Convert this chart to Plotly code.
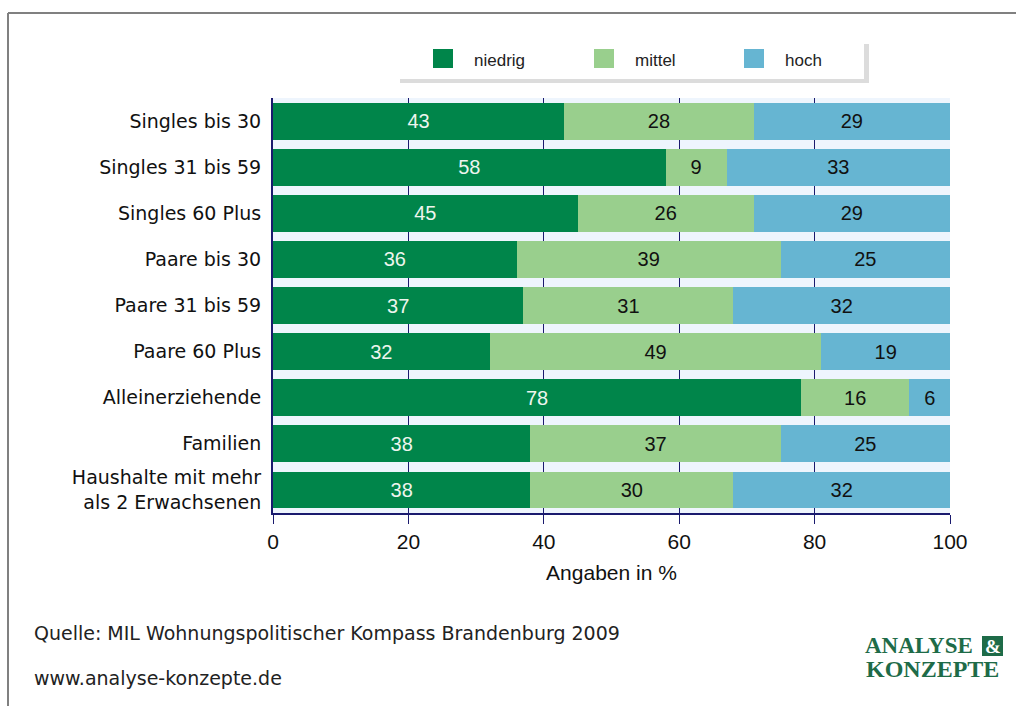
import plotly.graph_objects as go

categories = ["Singles bis 30", "Singles 31 bis 59", "Singles 60 Plus", "Paare bis 30",
              "Paare 31 bis 59", "Paare 60 Plus", "Alleinerziehende", "Familien",
              "Haushalte mit mehr<br>als 2 Erwachsenen"]
niedrig = [43, 58, 45, 36, 37, 32, 78, 38, 38]
mittel = [28, 9, 26, 39, 31, 49, 16, 37, 30]
hoch = [29, 33, 29, 25, 32, 19, 6, 25, 32]
series_names = ["niedrig", "mittel", "hoch"]
colors = ["#00854a", "#99cf8d", "#66b5d2"]
text_colors = ["#eef5ee", "#111111", "#111111"]
x_ticks = [0, 20, 40, 60, 80, 100]

W, H = 1016, 706
L, R, T, B = 273, 950, 98, 513

def px(x):
    return (x - L) / (R - L)

def py(y):
    return (B - y) / (B - T)

fig = go.Figure()
for name, vals, col, tc in zip(series_names, [niedrig, mittel, hoch], colors, text_colors):
    fig.add_trace(go.Bar(
        y=categories, x=vals, name=name, orientation="h",
        marker=dict(color=col, line=dict(width=0)),
        text=[str(v) for v in vals], textposition="inside",
        insidetextanchor="middle", textangle=0, constraintext="none",
        insidetextfont=dict(color=tc, size=20, family="Liberation Sans"),
        showlegend=False, hoverinfo="skip",
    ))

shapes = []
# outer frame (top and left)
shapes.append(dict(type="line", xref="paper", yref="paper", x0=px(8), x1=px(1016), y0=py(13), y1=py(13),
                   line=dict(color="#808080", width=2)))
shapes.append(dict(type="line", xref="paper", yref="paper", x0=px(8), x1=px(8), y0=py(13), y1=py(706),
                   line=dict(color="#808080", width=2)))
# legend box shadow and box
shapes.append(dict(type="rect", xref="paper", yref="paper", x0=px(400), x1=px(869), y0=py(44), y1=py(83),
                   fillcolor="#dcdcdc", line=dict(width=0), layer="below"))
shapes.append(dict(type="rect", xref="paper", yref="paper", x0=px(396), x1=px(864), y0=py(40), y1=py(79),
                   fillcolor="#ffffff", line=dict(width=0), layer="below"))
annotations = []
legend_sq = [433, 594, 744]
for sx, name, col in zip(legend_sq, series_names, colors):
    shapes.append(dict(type="rect", xref="paper", yref="paper", x0=px(sx), x1=px(sx + 20),
                       y0=py(49), y1=py(68), fillcolor=col, line=dict(width=0)))
    annotations.append(dict(text=name, xref="paper", yref="paper", x=px(sx + 39), y=py(60),
                            xanchor="left", yanchor="middle", showarrow=False,
                            font=dict(family="Liberation Sans", size=17, color="#222222")))

# footer texts
annotations.append(dict(text="Quelle: MIL Wohnungspolitischer Kompass Brandenburg 2009", xref="paper", yref="paper",
                        x=px(32), y=py(633), xanchor="left", yanchor="middle", showarrow=False,
                        font=dict(family="DejaVu Sans", size=19, color="#222222")))
annotations.append(dict(text="www.analyse-konzepte.de", xref="paper", yref="paper",
                        x=px(32), y=py(678), xanchor="left", yanchor="middle", showarrow=False,
                        font=dict(family="DejaVu Sans", size=19, color="#222222")))
# logo
logo_green = "#1e6b48"
annotations.append(dict(text="<b>ANALYSE</b>", xref="paper", yref="paper", x=px(975), y=py(645),
                        xanchor="right", yanchor="middle", showarrow=False,
                        font=dict(family="Liberation Serif", size=23, color=logo_green)))
shapes.append(dict(type="rect", xref="paper", yref="paper", x0=px(982), x1=px(1003), y0=py(636), y1=py(656),
                   fillcolor=logo_green, line=dict(width=0)))
annotations.append(dict(text="<b>&</b>", xref="paper", yref="paper", x=px(992.5), y=py(646),
                        xanchor="center", yanchor="middle", showarrow=False,
                        font=dict(family="Liberation Serif", size=19, color="#ffffff")))
annotations.append(dict(text="<b>KONZEPTE</b>", xref="paper", yref="paper", x=px(864), y=py(669),
                        xanchor="left", yanchor="middle", showarrow=False,
                        font=dict(family="Liberation Serif", size=24, color=logo_green)))

navy = "#1a1a6e"
fig.update_layout(
    width=W, height=H,
    barmode="stack", bargap=0.2,
    margin=dict(l=L, r=W - R, t=T, b=H - B, pad=0),
    paper_bgcolor="#ffffff", plot_bgcolor="#eef5fd",
    shapes=shapes, annotations=annotations,
    showlegend=False,
    xaxis=dict(range=[0, 100], tickvals=x_ticks, ticktext=[str(t) for t in x_ticks],
               showgrid=True, gridcolor=navy, gridwidth=1, zeroline=False,
               showline=True, linecolor=navy, linewidth=2, ticks="outside", ticklen=9,
               tickcolor=navy, tickwidth=1,
               tickfont=dict(family="Liberation Sans", size=21, color="#111111"),
               title=dict(text="Angaben in %", standoff=13,
                          font=dict(family="Liberation Sans", size=21, color="#111111"))),
    yaxis=dict(autorange="reversed", showgrid=False, showline=True, linecolor=navy, linewidth=2,
               ticks="", ticklabelstandoff=6,
               tickfont=dict(family="DejaVu Sans", size=19, color="#111111")),
)

fig.write_html("out.html", config={"displayModeBar": False},
               post_script="document.body.style.margin='0';document.body.style.overflow='hidden';")
